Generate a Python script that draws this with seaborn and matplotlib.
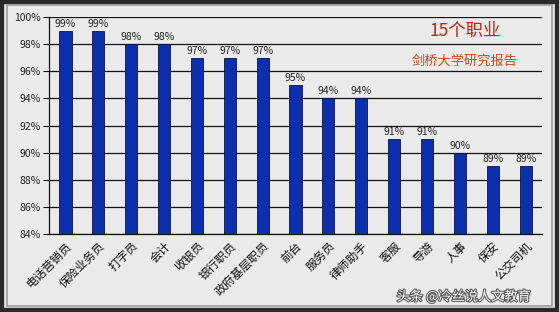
import numpy as np
import pandas as pd
import matplotlib
matplotlib.use('Agg')
import matplotlib.pyplot as plt
import matplotlib.patheffects as pe
import seaborn as sns
from matplotlib.patches import Rectangle

sns.set_theme(style='white')
plt.rcParams['font.family'] = ['Noto Sans CJK SC', 'DejaVu Sans']

# Data
jobs = ['电话营销员', '保险业务员', '打字员', '会计', '收银员', '银行职员', '政府基层职员',
        '前台', '服务员', '律师助手', '客服', '导游', '人事', '保安', '公交司机']
risk = [99, 99, 98, 98, 97, 97, 97, 95, 94, 94, 91, 91, 90, 89, 89]
yticks = [84, 86, 88, 90, 92, 94, 96, 98, 100]

df = pd.DataFrame({'job': jobs, 'risk': risk})

bg = '#EAEAEA'
fig = plt.figure(figsize=(5.59, 3.12), dpi=100)
fig.patch.set_facecolor(bg)
ax = fig.add_axes([0.0877, 0.25, 0.882, 0.6955])
ax.set_facecolor(bg)

sns.barplot(data=df, x='job', y='risk', color='#0B2FAE', width=0.37,
            edgecolor='#0a1440', linewidth=0.6, saturation=1, ax=ax, zorder=3)

ax.set_ylim(84, 100)
ax.set_xlim(-0.5, len(jobs) - 0.5)
ax.set_yticks(yticks)
ax.set_yticklabels([f'{t}%' for t in yticks], fontsize=7.5, color='#222222')
for t in yticks:
    ax.axhline(t, color='#111111', lw=0.9, zorder=1)

ax.set_xticks(range(len(jobs)))
ax.set_xticklabels(jobs, rotation=45, ha='right', rotation_mode='anchor',
                   fontsize=8.5, color='#111111')
ax.tick_params(axis='x', length=0, pad=4)
ax.set_xticks(np.arange(-0.5, len(jobs)), minor=True)
ax.tick_params(axis='x', which='minor', length=3, color='#111111', width=0.8)
ax.tick_params(axis='y', length=4, color='#111111', width=0.8, left=True, pad=2)

ax.set_xlabel('')
ax.set_ylabel('')
for s in ['top', 'right']:
    ax.spines[s].set_visible(False)
ax.spines['left'].set_color('#111111')
ax.spines['bottom'].set_color('#111111')
ax.spines['left'].set_linewidth(0.9)
ax.spines['bottom'].set_linewidth(0.9)

for i, v in enumerate(risk):
    ax.text(i, v + 0.15, f'{v}%', ha='center', va='bottom', fontsize=7.5,
            color='#222222', zorder=4)

fig.text(0.832, 0.9, '15个职业', ha='center', va='center', fontsize=12.5,
         color='#C8200C')
fig.text(0.832, 0.805, '剑桥大学研究报告', ha='center', va='center', fontsize=9.5,
         color='#D0441C')

fig.text(0.83, 0.05, '头条 @冷丝说人文教育', ha='center', va='center', fontsize=9.5,
         color='#FFFFFF',
         path_effects=[pe.withStroke(linewidth=1.5, foreground='#555555')])

# outer frame
fig.patches.append(Rectangle((0, 0), 1, 1, transform=fig.transFigure,
                             fill=False, edgecolor='#2a2a2a', lw=6, zorder=10))
fig.patches.append(Rectangle((0.012, 0.02), 0.975, 0.965, transform=fig.transFigure,
                             fill=False, edgecolor='#9a9a9a', lw=1.2, zorder=10))

fig.savefig('out.png', dpi=100, facecolor=bg)
